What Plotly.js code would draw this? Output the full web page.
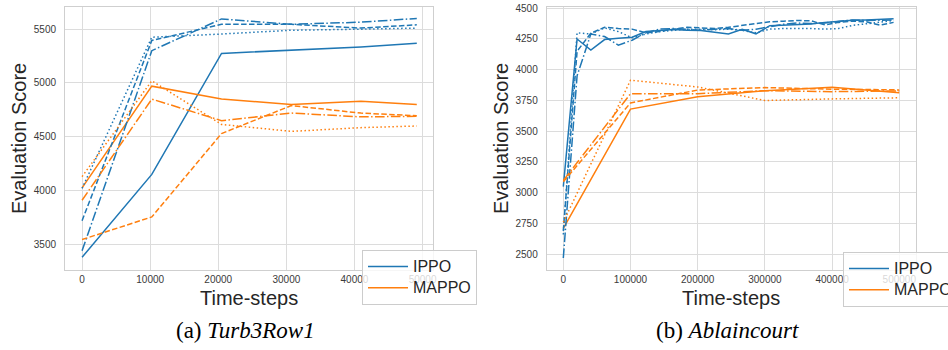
<!DOCTYPE html>
<html>
<head>
<meta charset="utf-8">
<script src="https://cdn.plot.ly/plotly-3.0.1.min.js"></script>
<style>html,body{margin:0;padding:0;background:#fff;}#chart{width:948px;height:350px;}</style>
</head>
<body>
<div id="chart"></div>
<script>
// ---------- Data: (a) Turb3Row1 ----------
const turbSteps = [0, 10240, 20480, 30720, 40960, 49152];
const turbIppoSolid   = [3380, 4150, 5275, 5305, 5335, 5370];
const turbIppoDashed  = [3720, 5395, 5545, 5545, 5510, 5540];
const turbIppoDashdot = [3440, 5300, 5595, 5545, 5565, 5600];
const turbIppoDotted  = [4020, 5425, 5455, 5490, 5500, 5510];
const turbMappoSolid   = [4025, 4970, 4850, 4800, 4830, 4800];
const turbMappoDashed  = [3545, 3755, 4530, 4790, 4720, 4695];
const turbMappoDashdot = [3910, 4850, 4650, 4720, 4685, 4690];
const turbMappoDotted  = [4130, 5020, 4615, 4550, 4585, 4600];

// ---------- Data: (b) Ablaincourt ----------
const ablIppoSteps = [0, 20480, 40960, 61440, 81920, 102400, 122880, 143360, 163840, 184320, 204800,
  225280, 245760, 266240, 286720, 307200, 327680, 348160, 368640, 389120, 409600, 430080, 450560, 471040, 491520];
const ablIppoSolid   = [3050, 4250, 4160, 4245, 4255, 4265, 4310, 4320, 4328, 4320, 4318, 4305, 4290, 4328, 4292, 4358, 4364, 4368, 4372, 4385, 4395, 4402, 4405, 4410, 4415];
const ablIppoDashed  = [2690, 4150, 4297, 4345, 4335, 4330, 4300, 4310, 4330, 4345, 4340, 4335, 4345, 4360, 4380, 4390, 4395, 4400, 4398, 4365, 4385, 4395, 4390, 4362, 4385];
const ablIppoDashdot = [2470, 3950, 4290, 4270, 4200, 4240, 4300, 4330, 4335, 4325, 4320, 4330, 4335, 4320, 4330, 4350, 4370, 4380, 4375, 4380, 4395, 4405, 4400, 4405, 4405];
const ablIppoDotted  = [2660, 4300, 4290, 4340, 4310, 4260, 4290, 4310, 4320, 4330, 4330, 4325, 4330, 4320, 4300, 4330, 4335, 4338, 4335, 4330, 4335, 4360, 4372, 4385, 4400];
const ablMappoSteps = [0, 100000, 200000, 300000, 400000, 500000];
const ablMappoSolid   = [2710, 3680, 3780, 3830, 3858, 3812];
const ablMappoDashed  = [3090, 3730, 3835, 3855, 3842, 3836];
const ablMappoDashdot = [3100, 3805, 3805, 3830, 3822, 3828];
const ablMappoDotted  = [2760, 3915, 3860, 3750, 3763, 3772];

// ---------- Tick labels ----------
const turbXTicks = [0, 10000, 20000, 30000, 40000, 50000];
const turbYTicks = [3500, 4000, 4500, 5000, 5500];
const ablXTicks = [0, 100000, 200000, 300000, 400000, 500000];
const ablYTicks = [2500, 2750, 3000, 3250, 3500, 3750, 4000, 4250, 4500];

const seriesNames = ['IPPO', 'MAPPO'];
const xTitle = 'Time-steps';
const yTitle = 'Evaluation Score';
const captionA = '(a) <i>Turb3Row1</i>';
const captionB = '(b) <i>Ablaincourt</i>';

// ---------- Styling ----------
const BLUE = '#1f77b4', ORANGE = '#ff7f0e';
const DASH = {solid: 'solid', dashed: '5.5px,2.4px', dashdot: '9.6px,2.4px,1.5px,2.4px', dotted: '1.5px,2.5px'};
const FONT = 'Liberation Sans, Arial, Helvetica, sans-serif';

function tr(x, y, color, dash, xa, ya, name, legend, show) {
  return {x: x, y: y, type: 'scatter', mode: 'lines', xaxis: xa, yaxis: ya,
    line: {color: color, width: 1.5, dash: DASH[dash]},
    name: '<span style="font-size:16px">' + name + '</span>', legend: legend,
    showlegend: show, hoverinfo: 'skip'};
}

const data = [
  tr(turbSteps, turbIppoSolid, BLUE, 'solid', 'x', 'y', seriesNames[0], 'legend', true),
  tr(turbSteps, turbMappoSolid, ORANGE, 'solid', 'x', 'y', seriesNames[1], 'legend', true),
  tr(turbSteps, turbIppoDashed, BLUE, 'dashed', 'x', 'y', seriesNames[0], 'legend', false),
  tr(turbSteps, turbIppoDashdot, BLUE, 'dashdot', 'x', 'y', seriesNames[0], 'legend', false),
  tr(turbSteps, turbIppoDotted, BLUE, 'dotted', 'x', 'y', seriesNames[0], 'legend', false),
  tr(turbSteps, turbMappoDashed, ORANGE, 'dashed', 'x', 'y', seriesNames[1], 'legend', false),
  tr(turbSteps, turbMappoDashdot, ORANGE, 'dashdot', 'x', 'y', seriesNames[1], 'legend', false),
  tr(turbSteps, turbMappoDotted, ORANGE, 'dotted', 'x', 'y', seriesNames[1], 'legend', false),

  tr(ablIppoSteps, ablIppoSolid, BLUE, 'solid', 'x2', 'y2', seriesNames[0], 'legend2', true),
  tr(ablMappoSteps, ablMappoSolid, ORANGE, 'solid', 'x2', 'y2', seriesNames[1], 'legend2', true),
  tr(ablIppoSteps, ablIppoDashed, BLUE, 'dashed', 'x2', 'y2', seriesNames[0], 'legend2', false),
  tr(ablIppoSteps, ablIppoDashdot, BLUE, 'dashdot', 'x2', 'y2', seriesNames[0], 'legend2', false),
  tr(ablIppoSteps, ablIppoDotted, BLUE, 'dotted', 'x2', 'y2', seriesNames[0], 'legend2', false),
  tr(ablMappoSteps, ablMappoDashed, ORANGE, 'dashed', 'x2', 'y2', seriesNames[1], 'legend2', false),
  tr(ablMappoSteps, ablMappoDashdot, ORANGE, 'dashdot', 'x2', 'y2', seriesNames[1], 'legend2', false),
  tr(ablMappoSteps, ablMappoDotted, ORANGE, 'dotted', 'x2', 'y2', seriesNames[1], 'legend2', false)
];

function axisBase(extra) {
  return Object.assign({
    showgrid: true, gridcolor: '#dcdcdc', gridwidth: 1,
    showline: true, linecolor: '#cfcfcf', linewidth: 1, mirror: true,
    zeroline: false, ticks: '', tickformat: 'd',
    tickfont: {family: FONT, size: 10, color: '#3a3a3a'},
    tickmode: 'array', fixedrange: true
  }, extra);
}

const titleFont = {family: FONT, size: 20, color: '#262626'};
const legendBase = {
  bgcolor: 'rgba(255,255,255,0.8)', bordercolor: '#cccccc', borderwidth: 1,
  font: {family: FONT, size: 14, color: '#262626'},
  xref: 'paper', yref: 'paper', xanchor: 'left', yanchor: 'top',
  tracegroupgap: 0, itemwidth: 40, traceorder: 'normal'
};

const layout = {
  width: 948, height: 350,
  margin: {l: 0, r: 0, t: 0, b: 0, autoexpand: false},
  paper_bgcolor: '#ffffff', plot_bgcolor: '#ffffff',
  showlegend: true,
  xaxis: axisBase({domain: [0.0686, 0.4568], range: [-2500, 51540], tickvals: turbXTicks, anchor: 'y'}),
  yaxis: axisBase({domain: [0.2286, 0.98], range: [3262, 5706], tickvals: turbYTicks, anchor: 'x',
    ticklabelstandoff: 6}),
  xaxis2: axisBase({domain: [0.5767, 0.9659], range: [-24700, 524400], tickvals: ablXTicks, anchor: 'y2'}),
  yaxis2: axisBase({domain: [0.2286, 0.98], range: [2372, 4510], tickvals: ablYTicks, anchor: 'x2',
    ticklabelstandoff: 6}),
  legend: Object.assign({x: 362 / 948, y: 1 - 250 / 350}, legendBase),
  legend2: Object.assign({x: 843 / 948, y: 1 - 252 / 350}, legendBase),
  annotations: [
    {text: yTitle, textangle: -90, xref: 'paper', yref: 'paper', x: 18.5 / 948, y: 1 - 138.5 / 350,
      xanchor: 'center', yanchor: 'middle', showarrow: false, font: titleFont},
    {text: yTitle, textangle: -90, xref: 'paper', yref: 'paper', x: 500.5 / 948, y: 1 - 138.5 / 350,
      xanchor: 'center', yanchor: 'middle', showarrow: false, font: titleFont},
    {text: xTitle, xref: 'paper', yref: 'paper', x: 249 / 948, y: 1 - 298 / 350,
      xanchor: 'center', yanchor: 'middle', showarrow: false, font: titleFont},
    {text: xTitle, xref: 'paper', yref: 'paper', x: 731 / 948, y: 1 - 298 / 350,
      xanchor: 'center', yanchor: 'middle', showarrow: false, font: titleFont},
    {text: captionA, xref: 'paper', yref: 'paper', x: 245 / 948, y: 1 - 330 / 350, xanchor: 'center', yanchor: 'middle',
      showarrow: false, font: {family: 'Liberation Serif, Times New Roman, serif', size: 23, color: '#000'}},
    {text: captionB, xref: 'paper', yref: 'paper', x: 727 / 948, y: 1 - 330 / 350, xanchor: 'center', yanchor: 'middle',
      showarrow: false, font: {family: 'Liberation Serif, Times New Roman, serif', size: 23, color: '#000'}}
  ]
};

Plotly.newPlot('chart', data, layout, {staticPlot: true, displayModeBar: false});
</script>
</body>
</html>
